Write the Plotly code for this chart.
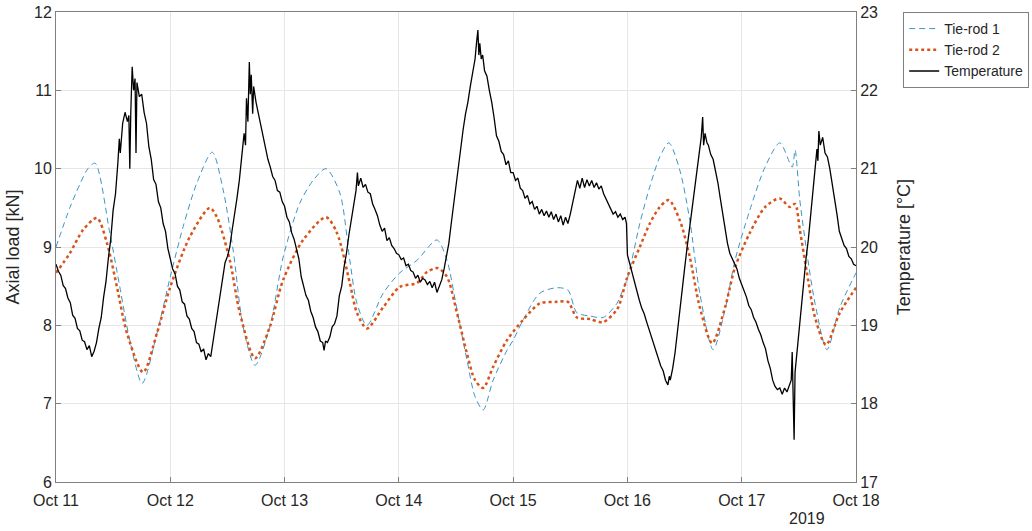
import pandas as pd
import plotly.graph_objects as go

# ---------------- data (hours since 2019-10-11 00:00) ----------------
rod1_hours = [0, 2.9, 5, 6.7, 8.2, 11.3, 13.4, 15.5, 18.1, 21.2, 24, 26.7, 29.6, 32.8, 35.1, 37.2,
              39.3, 41.8, 44.9, 47.7, 51.2, 54, 56.7, 59.6, 61.7, 63.2, 65.3, 68.7, 72.2, 75.8,
              80, 82.1, 84.2, 86.3, 88, 89.7, 91.8, 94.7, 96, 98.1, 101.6, 105.2, 107.5, 109.4,
              112.1, 114.9, 117.8, 118.4, 120, 122.6, 124.7, 126.8, 128.7, 131, 133.1, 135.2,
              138, 140.5, 142.6, 145.7, 148.9, 152, 154.6, 155.2, 156.2, 157.7, 159.4, 161.9,
              164.6, 168]
rod1_values = [9.0, 9.5, 9.8, 10.0, 10.07, 9.18, 8.49, 7.81, 7.26, 7.9, 8.62, 9.26, 9.82, 10.21, 9.73, 8.96,
               7.98, 7.49, 7.98, 8.87, 9.56, 9.85, 10.0, 9.69, 8.83, 8.28, 8.0, 8.41, 8.67, 8.83,
               9.09, 8.83, 8.2, 7.56, 7.09, 6.92, 7.3, 7.68, 7.81, 8.07, 8.41, 8.48, 8.45, 8.16,
               8.12, 8.1, 8.28, 8.36, 8.6, 9.3, 9.77, 10.15, 10.33, 9.98, 9.34, 8.41,
               7.69, 8.2, 8.83, 9.47, 10.02, 10.33, 10.02, 10.24, 9.6, 8.92, 8.28, 7.69,
               8.23, 8.67]

rod2_hours = [0, 2.9, 5.7, 8.6, 10.7, 12.8, 14.9, 18.3, 21.2, 24, 28.1, 32.3, 33.8, 36.5, 38.6,
              41.8, 44.9, 47.7, 51.9, 56.7, 59, 61.7, 63.2, 65.3, 68.7, 72.2, 75.8, 77.9, 80.2,
              82.1, 84.2, 86.3, 88, 89.7, 91.8, 94.7, 98.1, 101.6, 105.2, 107.5, 109.4, 112.1,
              114.9, 117.8, 118.4, 120, 122.6, 124.7, 126.8, 128.7, 131, 133.1, 135.2, 137.8,
              140.5, 142.6, 145.7, 148.9, 152, 154.1, 155.2, 156.2, 157.7, 159.4, 161.7, 164.6, 168]
rod2_values = [8.67, 8.92, 9.22, 9.37, 9.05, 8.49, 7.9, 7.4, 7.9, 8.49, 9.13, 9.5, 9.38, 8.83, 8.16,
               7.58, 7.98, 8.58, 9.09, 9.38, 9.18, 8.54, 8.16, 7.96, 8.23, 8.49, 8.54, 8.68, 8.73,
               8.62, 8.16, 7.64, 7.3, 7.2, 7.47, 7.81, 8.07, 8.28, 8.3, 8.3, 8.1, 8.08,
               8.04, 8.2, 8.28, 8.62, 9.0, 9.3, 9.51, 9.6, 9.34, 8.87, 8.23, 7.77,
               8.23, 8.74, 9.18, 9.51, 9.62, 9.51, 9.55, 9.22, 8.67, 8.1, 7.75, 8.16, 8.48]

temp_hours = [
    0, 0.5, 1, 1.5, 2, 2.5, 3, 3.5, 4, 4.5, 5, 5.5, 6, 6.5, 7, 7.5, 8, 8.5, 9, 9.5, 10, 10.5, 11, 11.5,
    12, 12.5, 13, 13.3, 13.5, 14, 14.5, 15, 15.3, 15.5, 15.7, 16, 16.3, 16.6, 16.8, 17, 17.5, 18, 18.5,
    19, 19.5, 20, 20.5, 21, 21.5, 22, 22.5, 23, 23.5,
    24, 24.5, 25, 25.5, 26, 26.5, 27, 27.5, 28, 28.5, 29, 29.5, 30, 30.5, 31, 31.5, 32, 32.5, 33, 33.5,
    34, 34.5, 35, 35.5, 36, 36.5, 37, 37.5, 38, 38.5, 39, 39.5, 39.8, 40, 40.3, 40.6, 40.8, 41, 41.3,
    41.5, 42, 42.5, 43, 43.5, 44, 44.5, 45, 45.5, 46, 46.5, 47, 47.5,
    48, 48.5, 49, 49.5, 50, 50.5, 51, 51.5, 52, 52.5, 53, 53.5, 54, 54.5, 55, 55.5, 56, 56.3, 56.6, 57,
    57.5, 58, 58.5, 59, 59.5, 60, 60.5, 61, 61.5, 62, 62.5, 63, 63.3, 63.5, 64, 64.5, 65, 65.5, 66, 66.5,
    67, 67.5, 68, 68.5, 69, 69.5, 70, 70.5, 71, 71.5,
    72, 72.5, 73, 73.5, 74, 74.5, 75, 75.5, 76, 76.5, 77, 77.5, 78, 78.5, 79, 79.5, 80, 80.5, 81, 81.5,
    82, 82.5, 83, 83.5, 84, 84.5, 85, 85.5, 86, 86.5, 87, 87.5, 88, 88.3, 88.6, 88.8, 89, 89.3, 89.6, 90,
    90.5, 91, 91.5, 92, 92.5, 93, 93.5, 94, 94.5, 95, 95.5,
    96, 96.5, 97, 97.5, 98, 98.5, 99, 99.5, 100, 100.5, 101, 101.5, 102, 102.5, 103, 103.5, 104, 104.5,
    105, 105.5, 106, 106.5, 107, 107.5, 108, 108.5, 109, 109.5, 110, 110.5, 111, 111.5, 112, 112.5, 113,
    113.5, 114, 114.5, 115, 115.5, 116, 116.5, 117, 117.5, 118, 118.5, 119, 119.5, 119.8,
    120, 120.5, 121, 121.5, 122, 122.5, 123, 123.5, 124, 124.5, 125, 125.5, 126, 126.5, 127, 127.5, 128,
    128.5, 128.8, 129, 129.5, 130, 130.5, 131, 131.5, 132, 132.5, 133, 133.5, 134, 134.5, 135, 135.5,
    135.8, 136, 136.3, 136.7, 137, 137.5, 138, 138.5, 139, 139.5, 140, 140.5, 141, 141.5, 142, 142.5,
    143, 143.5,
    144, 144.5, 145, 145.5, 146, 146.5, 147, 147.5, 148, 148.5, 149, 149.5, 150, 150.5, 151, 151.5, 152,
    152.5, 153, 153.5, 154, 154.4, 154.6, 154.8, 155, 155.2, 155.5, 156, 156.5, 157, 157.5, 158, 158.5,
    159, 159.5, 159.8, 160, 160.2, 160.5, 161, 161.5, 162, 162.5, 163, 163.5, 164, 164.5, 165, 165.5,
    166, 166.5, 167, 167.5, 168]
temp_values = [
    19.78, 19.69, 19.64, 19.51, 19.47, 19.35, 19.29, 19.13, 19.09, 18.96, 18.93, 18.81, 18.79, 18.69,
    18.74, 18.60, 18.67, 18.78, 18.96, 19.10, 19.36, 19.56, 19.86, 20.10, 20.47, 20.68, 21.08, 21.38,
    21.20, 21.58, 21.72, 21.60, 21.68, 21.00, 21.70, 22.30, 22.00, 22.15, 21.20, 22.10, 21.92, 21.95,
    21.72, 21.58, 21.28, 21.12, 20.86, 20.80, 20.58, 20.50, 20.30, 20.20, 19.98,
    19.85, 19.72, 19.66, 19.50, 19.45, 19.30, 19.27, 19.12, 19.08, 18.96, 18.92, 18.78, 18.76, 18.66,
    18.70, 18.56, 18.64, 18.60, 18.80, 19.00, 19.20, 19.42, 19.60, 19.80, 19.88, 20.00, 20.22, 20.40,
    20.62, 20.85, 21.15, 21.45, 21.30, 21.90, 21.60, 22.36, 21.95, 22.20, 21.70, 22.05, 21.85, 21.70,
    21.55, 21.42, 21.25, 21.12, 21.02, 20.90, 20.85, 20.72, 20.70, 20.58,
    20.52, 20.38, 20.32, 20.18, 20.10, 19.98, 19.85, 19.62, 19.50, 19.38, 19.32, 19.18, 19.10, 18.98,
    18.92, 18.80, 18.78, 18.68, 18.80, 18.78, 18.85, 18.98, 19.02, 19.12, 19.38, 19.50, 19.75, 19.92,
    20.15, 20.35, 20.58, 20.72, 20.95, 20.78, 20.88, 20.76, 20.80, 20.70, 20.68, 20.55, 20.48, 20.40,
    20.28, 20.20, 20.24, 20.08, 20.12, 20.02, 19.98, 19.92,
    19.90, 19.84, 19.86, 19.76, 19.78, 19.70, 19.68, 19.60, 19.64, 19.55, 19.60, 19.58, 19.52, 19.56,
    19.48, 19.55, 19.42, 19.50, 19.58, 19.72, 19.90, 20.05, 20.30, 20.55, 20.80, 21.05, 21.30, 21.50,
    21.70, 21.85, 22.05, 22.25, 22.40, 22.60, 22.77, 22.45, 22.60, 22.40, 22.45, 22.25, 22.18, 22.00,
    21.85, 21.65, 21.42, 21.35, 21.22, 21.18, 21.05, 21.10, 20.95,
    20.95, 20.85, 20.88, 20.75, 20.72, 20.62, 20.66, 20.55, 20.58, 20.48, 20.52, 20.42, 20.48, 20.40,
    20.46, 20.38, 20.45, 20.35, 20.42, 20.32, 20.40, 20.28, 20.38, 20.30, 20.42, 20.55, 20.72, 20.85,
    20.75, 20.88, 20.76, 20.86, 20.78, 20.85, 20.76, 20.82, 20.74, 20.78, 20.68, 20.62, 20.55, 20.50,
    20.42, 20.45, 20.38, 20.42, 20.35, 20.38, 20.30,
    19.90, 19.78, 19.65, 19.55, 19.42, 19.32, 19.22, 19.15, 19.05, 18.95, 18.85, 18.78, 18.66, 18.58,
    18.48, 18.42, 18.30, 18.24, 18.35, 18.30, 18.45, 18.65, 18.90, 19.15, 19.45, 19.72, 19.98, 20.22,
    20.45, 20.72, 20.98, 21.20, 21.40, 21.66, 21.30, 21.45, 21.33, 21.30, 21.18, 21.12, 20.98, 20.82,
    20.62, 20.42, 20.20, 20.05, 19.92, 19.85, 19.78, 19.72, 19.60,
    19.52, 19.42, 19.36, 19.25, 19.20, 19.10, 19.04, 18.95, 18.88, 18.78, 18.70, 18.55, 18.45, 18.30,
    18.22, 18.18, 18.20, 18.12, 18.20, 18.15, 18.25, 18.30, 18.66, 18.20, 17.54, 18.40, 18.60, 18.85,
    19.20, 19.55, 19.85, 20.10, 20.45, 20.72, 21.05, 21.25, 21.10, 21.48, 21.30, 21.40, 21.20, 21.15,
    21.00, 20.82, 20.60, 20.42, 20.20, 20.10, 20.02, 19.98, 19.88, 19.85, 19.78, 19.76]

day_ticks = ["2019-10-%02d" % d for d in range(11, 19)]
load_ticks = [6, 7, 8, 9, 10, 11, 12]
temp_ticks = [17, 18, 19, 20, 21, 22, 23]

start = pd.Timestamp("2019-10-11")


def to_time(hours):
    return start + pd.to_timedelta(hours, unit="h")


FONT = "Liberation Sans, Arial, Helvetica, sans-serif"
TXT = "#262626"

fig = go.Figure()
fig.add_trace(go.Scatter(x=to_time(rod1_hours), y=rod1_values, mode="lines", name="Tie-rod 1",
                         line=dict(color="#3a95c8", width=1, dash="6px,4px", shape="spline", smoothing=0.8)))
fig.add_trace(go.Scatter(x=to_time(rod2_hours), y=rod2_values, mode="lines", name="Tie-rod 2",
                         line=dict(color="#d95319", width=2.5, dash="dot", shape="spline", smoothing=0.8)))
fig.add_trace(go.Scatter(x=to_time(temp_hours), y=temp_values, mode="lines", name="Temperature",
                         yaxis="y2", line=dict(color="#000000", width=1.3)))

axis_common = dict(showline=True, linecolor="#808080", linewidth=1, ticks="inside", ticklen=5,
                   tickcolor="#808080", tickfont=dict(family=FONT, size=16, color=TXT),
                   zeroline=False)

fig.update_layout(
    width=1032, height=531,
    margin=dict(l=56, r=176, t=12, b=49, autoexpand=False),
    paper_bgcolor="white", plot_bgcolor="white",
    font=dict(family=FONT, size=16, color=TXT),
    xaxis=dict(range=[day_ticks[0], day_ticks[-1]], tickvals=day_ticks, tickformat="%b %d",
               showgrid=True, gridcolor="#e6e6e6", gridwidth=1, mirror=True,
               ticklabelstandoff=4, **axis_common),
    yaxis=dict(range=[6, 12], tickvals=load_ticks, showgrid=True, gridcolor="#e6e6e6", gridwidth=1,
               title=dict(text="Axial load [kN]", font=dict(family=FONT, size=18, color=TXT), standoff=9),
               **axis_common),
    yaxis2=dict(range=[17, 23], tickvals=temp_ticks, overlaying="y", side="right", showgrid=False,
                title=dict(text="Temperature [°C]", font=dict(family=FONT, size=18, color=TXT), standoff=20),
                **axis_common),
    legend=dict(x=1.059, y=1.0, xanchor="left", yanchor="top", bgcolor="white",
                bordercolor="#808080", borderwidth=1, font=dict(family=FONT, size=14, color=TXT),
                itemwidth=30, tracegroupgap=0),
    annotations=[dict(text="2019", xref="paper", yref="paper", x=0.964, y=-0.0787, yanchor="middle",
                      showarrow=False, font=dict(family=FONT, size=16, color=TXT))],
)

fig.write_html("out.html")
